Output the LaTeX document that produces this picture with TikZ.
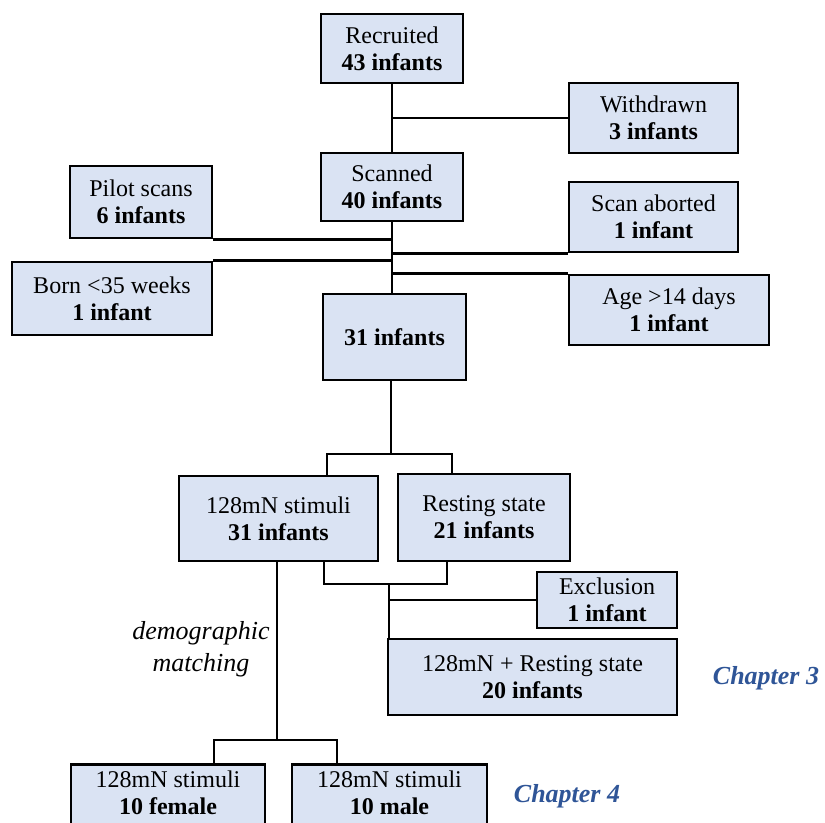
\documentclass[tikz,border=0pt]{standalone}
\usepackage{fontspec}
\setmainfont{Liberation Serif}
\definecolor{boxblue}{HTML}{DAE3F3}
\definecolor{chapblue}{HTML}{2F5597}
\begin{document}
\begin{tikzpicture}[x=0.5pt,y=-0.5pt,font=\fontsize{12}{13.5}\selectfont,
	box/.style={draw,line width=1.4pt,fill=boxblue,align=center,inner sep=0pt},
	lnk/.style={line width=1.4pt},
	chap/.style={text=chapblue,font=\fontsize{13}{15}\selectfont\bfseries\itshape}]
	\useasboundingbox (0,0) rectangle (825,823);
	\clip (0,0) rectangle (825,823);
	\path
	(391,454) coordinate (s1)
	(327,454) coordinate (s1l)
	(452,454) coordinate (s1r)
	(389,584) coordinate (s2)
	(324,584) coordinate (s2l)
	(447,584) coordinate (s2r)
	(277,740) coordinate (s3)
	(214,740) coordinate (s3l)
	(337,740) coordinate (s3r)
	;
	\node[box,minimum width=71pt,minimum height=34.5pt] (rec) at (392,48.5) {Recruited\\\textbf{43 infants}};
	\node[box,minimum width=84.5pt,minimum height=35pt] (wd) at (653.5,118) {Withdrawn\\\textbf{3 infants}};
	\node[box,minimum width=71pt,minimum height=34pt] (scan) at (392,187) {Scanned\\\textbf{40 infants}};
	\node[box,minimum width=71pt,minimum height=36pt] (pilot) at (141,202) {Pilot scans\\\textbf{6 infants}};
	\node[box,minimum width=84.5pt,minimum height=35pt] (abort) at (653.5,217) {Scan aborted\\\textbf{1 infant}};
	\node[box,minimum width=100pt,minimum height=36.5pt] (born) at (112,298.5) {Born <35 weeks\\\textbf{1 infant}};
	\node[box,minimum width=100pt,minimum height=35pt] (age) at (669,310) {Age >14 days\\\textbf{1 infant}};
	\node[box,minimum width=71.5pt,minimum height=43pt] (fin) at (394.5,337) {\textbf{31 infants}};
	\node[box,minimum width=99.5pt,minimum height=42.5pt] (stim) at (278.5,518.5) {128mN stimuli\\\textbf{31 infants}};
	\node[box,minimum width=86pt,minimum height=43.5pt] (rest) at (484,517.5) {Resting state\\\textbf{21 infants}};
	\node[box,minimum width=70pt,minimum height=28pt] (excl) at (607,600) {Exclusion\\\textbf{1 infant}};
	\node[box,minimum width=144.5pt,minimum height=38pt] (both) at (532.5,677) {128mN + Resting state\\\textbf{20 infants}};
	\node[box,minimum width=97pt,anchor=north,inner ysep=3pt,text depth=40pt] (fem) at (168,763) {128mN stimuli\\\textbf{10 female}};
	\node[box,minimum width=97.5pt,anchor=north,inner ysep=3pt,text depth=40pt] (male) at (389.5,763) {128mN stimuli\\\textbf{10 male}};
	\draw[lnk] (rec.south) -- (scan.north);
	\draw[lnk] (wd.west) -- (wd.west -| rec.south);
	\draw[lnk] (scan.south) -- (scan.south |- fin.north);
	\draw[lnk] (pilot.south east) -- (pilot.south east -| scan.south);
	\draw[lnk] (abort.south west) -- (abort.south west -| scan.south);
	\draw[lnk] (born.north east) -- (born.north east -| scan.south);
	\draw[lnk] (age.north west) -- (age.north west -| scan.south);
	\draw[lnk] (fin.south -| s1) -- (s1);
	\draw[lnk] (stim.north -| s1l) -- (s1l) -- (s1r) -- (rest.north -| s1r);
	\draw[lnk] (stim.south -| s2l) -- (s2l) -- (s2r) -- (rest.south -| s2r);
	\draw[lnk] (s2) -- (s2 |- both.north);
	\draw[lnk] (excl.west) -- (excl.west -| s2);
	\draw[lnk] (stim.south -| s3) -- (s3);
	\draw[lnk] (fem.north -| s3l) -- (s3l) -- (s3r) -- (male.north -| s3r);
	\node[font=\fontsize{13}{16}\selectfont\itshape,align=center] (dm) at (201,649) {demographic\\matching};
	\node[chap] (c3) at (766,678) {Chapter 3};
	\node[chap] (c4) at (567,796) {Chapter 4};
\end{tikzpicture}
\end{document}
